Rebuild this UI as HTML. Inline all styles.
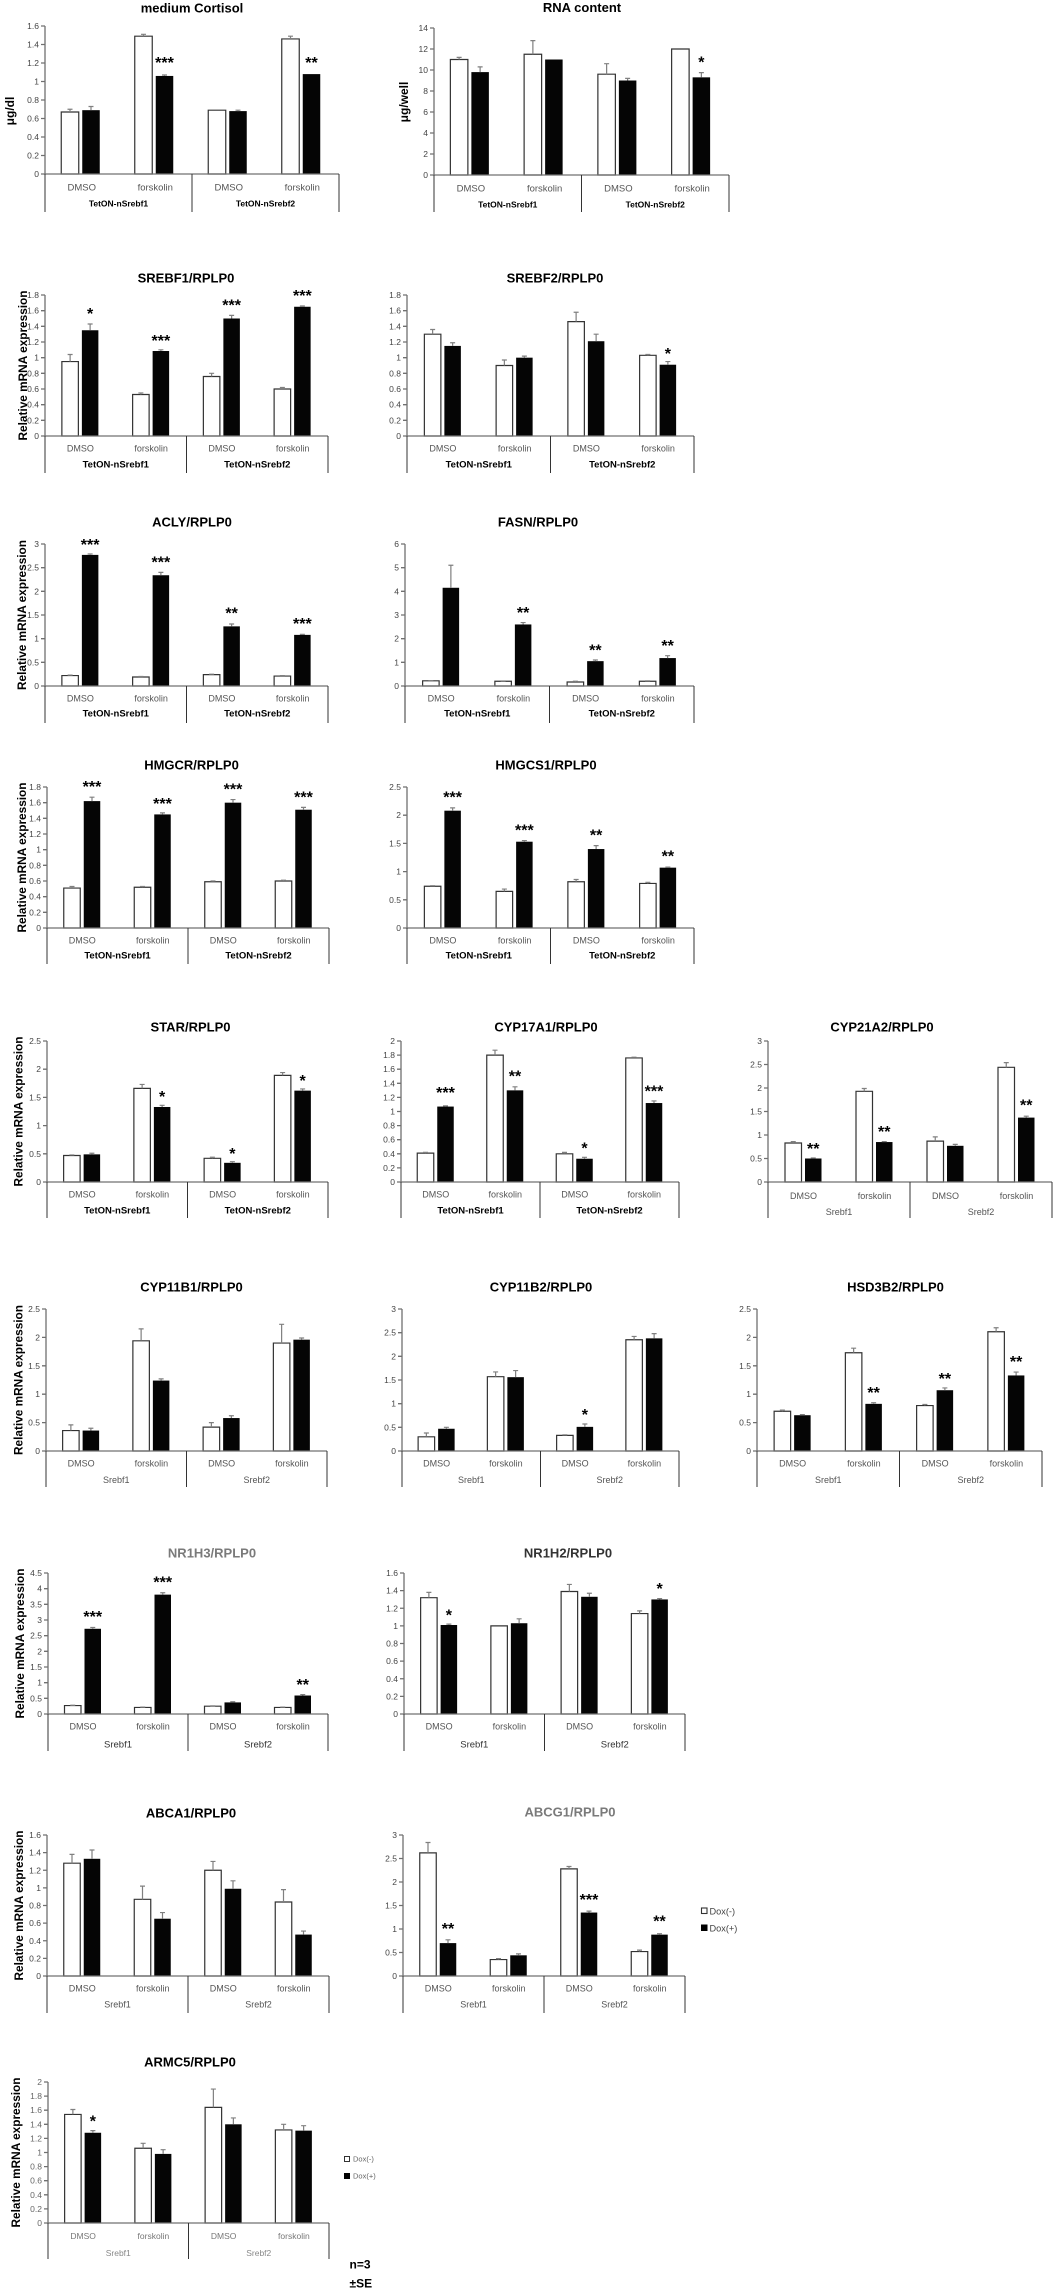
<!DOCTYPE html>
<html><head><meta charset="utf-8"><style>
html,body{margin:0;padding:0;background:#fff}
svg{display:block}
svg text{font-family:"Liberation Sans",Arial,sans-serif}
.t{font-size:13px;font-weight:bold;text-anchor:middle;fill:#000}
.tk{font-size:8.5px;fill:#444;text-anchor:end}
.c{font-size:9px;fill:#555;text-anchor:middle}
.g{font-size:9.5px;font-weight:bold;fill:#000;text-anchor:middle}
.gs{font-size:9px;fill:#555;text-anchor:middle}
.s{font-size:16px;font-weight:bold;text-anchor:middle;fill:#000}
.yl{font-size:12px;font-weight:bold;text-anchor:middle;fill:#000}
.ax{stroke:#707070;stroke-width:1.3;fill:none}
.tb{stroke:#333;stroke-width:1;fill:none}
.w{fill:#fff;stroke:#333;stroke-width:1.2;vector-effect:non-scaling-stroke}
.b{fill:#050505}
.e{stroke:#808080;stroke-width:1.2;fill:none;vector-effect:non-scaling-stroke}
.lg{font-size:9.2px;fill:#444}
</style></head><body>
<svg width="1054" height="2292" viewBox="0 0 1054 2292" xmlns="http://www.w3.org/2000/svg">
<rect width="1054" height="2292" fill="#fff"/>

<!-- ROW 1 -->
<text class="t" x="192" y="12.7">medium Cortisol</text>
<text class="yl" transform="translate(14,111) rotate(-90)">μg/dl</text>
<g transform="translate(45,174)">
<g transform="scale(1,-92.5)">
<g transform="translate(36.75,0)"><rect class="w" x="-20.5" width="17.5" height=".67"/><rect class="b" x=".5" width="17.5" height=".69"/><path class="e" d="M-11.75 .67V.70M-14.25 .70H-9.25M9.25 .69V.73M6.75 .73H11.75"/></g>
<g transform="translate(110.25,0)"><rect class="w" x="-20.5" width="17.5" height="1.49"/><rect class="b" x=".5" width="17.5" height="1.06"/><path class="e" d="M-11.75 1.49V1.51M-14.25 1.51H-9.25M9.25 1.06V1.07M6.75 1.07H11.75"/></g>
<g transform="translate(183.75,0)"><rect class="w" x="-20.5" width="17.5" height=".69"/><rect class="b" x=".5" width="17.5" height=".68"/><path class="e" d="M9.25 .68V.69M6.75 .69H11.75"/></g>
<g transform="translate(257.25,0)"><rect class="w" x="-20.5" width="17.5" height="1.46"/><rect class="b" x=".5" width="17.5" height="1.08"/><path class="e" d="M-11.75 1.46V1.49M-14.25 1.49H-9.25"/></g>
</g>
<path class="ax" d="M0 0V-148M-4 0H294M-4 -18.5H0M-4 -37H0M-4 -55.5H0M-4 -74H0M-4 -92.5H0M-4 -111H0M-4 -129.5H0M-4 -148H0"/>
<path class="tb" d="M0 0V38M147 0V38M294 0V38"/>
<text class="tk" x="-6" y="3">0</text><text class="tk" x="-6" y="-15.5">0.2</text><text class="tk" x="-6" y="-34">0.4</text><text class="tk" x="-6" y="-52.5">0.6</text><text class="tk" x="-6" y="-71">0.8</text><text class="tk" x="-6" y="-89.5">1</text><text class="tk" x="-6" y="-108">1.2</text><text class="tk" x="-6" y="-126.5">1.4</text><text class="tk" x="-6" y="-145">1.6</text>
<text class="c" x="36.75" y="16.5" style="font-size:9.5px">DMSO</text><text class="c" x="110.25" y="16.5" style="font-size:9.5px">forskolin</text><text class="c" x="183.75" y="16.5" style="font-size:9.5px">DMSO</text><text class="c" x="257.25" y="16.5" style="font-size:9.5px">forskolin</text>
<text class="g" x="73.5" y="32.5" style="font-size:8.5px">TetON-nSrebf1</text><text class="g" x="220.5" y="32.5" style="font-size:8.5px">TetON-nSrebf2</text>
<text class="s" x="119.5" y="-106">***</text><text class="s" x="266.5" y="-106">**</text>
</g>

<text class="t" x="582" y="12.2">RNA content</text>
<text class="yl" transform="translate(408,102) rotate(-90)">μg/well</text>
<g transform="translate(434,175)">
<g transform="scale(1,-10.5)">
<g transform="translate(36.875,0)"><rect class="w" x="-20.5" width="17.5" height="11"/><rect class="b" x=".5" width="17.5" height="9.8"/><path class="e" d="M-11.75 11V11.2M-14.25 11.2H-9.25M9.25 9.8V10.3M6.75 10.3H11.75"/></g>
<g transform="translate(110.625,0)"><rect class="w" x="-20.5" width="17.5" height="11.5"/><rect class="b" x=".5" width="17.5" height="11"/><path class="e" d="M-11.75 11.5V12.8M-14.25 12.8H-9.25"/></g>
<g transform="translate(184.375,0)"><rect class="w" x="-20.5" width="17.5" height="9.6"/><rect class="b" x=".5" width="17.5" height="9"/><path class="e" d="M-11.75 9.6V10.6M-14.25 10.6H-9.25M9.25 9V9.2M6.75 9.2H11.75"/></g>
<g transform="translate(258.125,0)"><rect class="w" x="-20.5" width="17.5" height="12"/><rect class="b" x=".5" width="17.5" height="9.3"/><path class="e" d="M9.25 9.3V9.75M6.75 9.75H11.75"/></g>
</g>
<path class="ax" d="M0 0V-147M-4 0H295M-4 -21H0M-4 -42H0M-4 -63H0M-4 -84H0M-4 -105H0M-4 -126H0M-4 -147H0"/>
<path class="tb" d="M0 0V37M147.5 0V37M295 0V37"/>
<text class="tk" x="-6" y="3">0</text><text class="tk" x="-6" y="-18">2</text><text class="tk" x="-6" y="-39">4</text><text class="tk" x="-6" y="-60">6</text><text class="tk" x="-6" y="-81">8</text><text class="tk" x="-6" y="-102">10</text><text class="tk" x="-6" y="-123">12</text><text class="tk" x="-6" y="-144">14</text>
<text class="c" x="36.875" y="16.5" style="font-size:9.5px">DMSO</text><text class="c" x="110.625" y="16.5" style="font-size:9.5px">forskolin</text><text class="c" x="184.375" y="16.5" style="font-size:9.5px">DMSO</text><text class="c" x="258.125" y="16.5" style="font-size:9.5px">forskolin</text>
<text class="g" x="73.75" y="32.5" style="font-size:8.5px">TetON-nSrebf1</text><text class="g" x="221.25" y="32.5" style="font-size:8.5px">TetON-nSrebf2</text>
<text class="s" x="267.4" y="-107.7">*</text>
</g>

<!-- ROW 2 -->
<text class="t" x="186" y="282.7">SREBF1/RPLP0</text>
<text class="yl" transform="translate(27,365.5) rotate(-90)" textLength="150" lengthAdjust="spacingAndGlyphs">Relative mRNA expression</text>
<g transform="translate(45,436)">
<g transform="scale(1,-78.33)">
<g transform="translate(35.375,0)"><rect class="w" x="-18.5" width="16.5" height=".95"/><rect class="b" x="1.5" width="16.5" height="1.35"/><path class="e" d="M-10.25 .95V1.04M-12.75 1.04H-7.75M9.75 1.35V1.43M7.25 1.43H12.25"/></g>
<g transform="translate(106.125,0)"><rect class="w" x="-18.5" width="16.5" height=".53"/><rect class="b" x="1.5" width="16.5" height="1.085"/><path class="e" d="M-10.25 .53V.55M-12.75 .55H-7.75M9.75 1.085V1.10M7.25 1.10H12.25"/></g>
<g transform="translate(176.875,0)"><rect class="w" x="-18.5" width="16.5" height=".76"/><rect class="b" x="1.5" width="16.5" height="1.50"/><path class="e" d="M-10.25 .76V.80M-12.75 .80H-7.75M9.75 1.50V1.54M7.25 1.54H12.25"/></g>
<g transform="translate(247.625,0)"><rect class="w" x="-18.5" width="16.5" height=".60"/><rect class="b" x="1.5" width="16.5" height="1.65"/><path class="e" d="M-10.25 .60V.62M-12.75 .62H-7.75M9.75 1.65V1.66M7.25 1.66H12.25"/></g>
</g>
<path class="ax" d="M0 0V-141M-4 0H283M-4 -15.67H0M-4 -31.33H0M-4 -47H0M-4 -62.67H0M-4 -78.33H0M-4 -94H0M-4 -109.67H0M-4 -125.33H0M-4 -141H0"/>
<path class="tb" d="M0 0V37M141.5 0V37M283 0V37"/>
<text class="tk" x="-6" y="3">0</text><text class="tk" x="-6" y="-12.67">0.2</text><text class="tk" x="-6" y="-28.33">0.4</text><text class="tk" x="-6" y="-44">0.6</text><text class="tk" x="-6" y="-59.67">0.8</text><text class="tk" x="-6" y="-75.33">1</text><text class="tk" x="-6" y="-91">1.2</text><text class="tk" x="-6" y="-106.67">1.4</text><text class="tk" x="-6" y="-122.33">1.6</text><text class="tk" x="-6" y="-138">1.8</text>
<text class="c" x="35.375" y="15.3">DMSO</text><text class="c" x="106.125" y="15.3">forskolin</text><text class="c" x="176.875" y="15.3">DMSO</text><text class="c" x="247.625" y="15.3">forskolin</text>
<text class="g" x="70.75" y="31.5">TetON-nSrebf1</text><text class="g" x="212.25" y="31.5">TetON-nSrebf2</text>
<text class="s" x="45.1" y="-117">*</text><text class="s" x="115.9" y="-90">***</text><text class="s" x="186.6" y="-125.6">***</text><text class="s" x="257.4" y="-135">***</text>
</g>

<text class="t" x="555" y="282.7">SREBF2/RPLP0</text>
<g transform="translate(407,436)">
<g transform="scale(1,-78.33)">
<g transform="translate(35.875,0)"><rect class="w" x="-18.5" width="16.5" height="1.30"/><rect class="b" x="1.5" width="16.5" height="1.15"/><path class="e" d="M-10.25 1.30V1.36M-12.75 1.36H-7.75M9.75 1.15V1.19M7.25 1.19H12.25"/></g>
<g transform="translate(107.625,0)"><rect class="w" x="-18.5" width="16.5" height=".90"/><rect class="b" x="1.5" width="16.5" height="1.0"/><path class="e" d="M-10.25 .90V.97M-12.75 .97H-7.75M9.75 1.0V1.02M7.25 1.02H12.25"/></g>
<g transform="translate(179.375,0)"><rect class="w" x="-18.5" width="16.5" height="1.46"/><rect class="b" x="1.5" width="16.5" height="1.21"/><path class="e" d="M-10.25 1.46V1.58M-12.75 1.58H-7.75M9.75 1.21V1.30M7.25 1.30H12.25"/></g>
<g transform="translate(251.125,0)"><rect class="w" x="-18.5" width="16.5" height="1.03"/><rect class="b" x="1.5" width="16.5" height=".91"/><path class="e" d="M-10.25 1.03V1.04M-12.75 1.04H-7.75M9.75 .91V.95M7.25 .95H12.25"/></g>
</g>
<path class="ax" d="M0 0V-141M-4 0H287M-4 -15.67H0M-4 -31.33H0M-4 -47H0M-4 -62.67H0M-4 -78.33H0M-4 -94H0M-4 -109.67H0M-4 -125.33H0M-4 -141H0"/>
<path class="tb" d="M0 0V37M143.5 0V37M287 0V37"/>
<text class="tk" x="-6" y="3">0</text><text class="tk" x="-6" y="-12.67">0.2</text><text class="tk" x="-6" y="-28.33">0.4</text><text class="tk" x="-6" y="-44">0.6</text><text class="tk" x="-6" y="-59.67">0.8</text><text class="tk" x="-6" y="-75.33">1</text><text class="tk" x="-6" y="-91">1.2</text><text class="tk" x="-6" y="-106.67">1.4</text><text class="tk" x="-6" y="-122.33">1.6</text><text class="tk" x="-6" y="-138">1.8</text>
<text class="c" x="35.875" y="15.3">DMSO</text><text class="c" x="107.625" y="15.3">forskolin</text><text class="c" x="179.375" y="15.3">DMSO</text><text class="c" x="251.125" y="15.3">forskolin</text>
<text class="g" x="71.75" y="31.5">TetON-nSrebf1</text><text class="g" x="215.25" y="31.5">TetON-nSrebf2</text>
<text class="s" x="260.9" y="-77">*</text>
</g>

<!-- ROW 3 -->
<text class="t" x="192" y="526.7">ACLY/RPLP0</text>
<text class="yl" transform="translate(26,615) rotate(-90)" textLength="150" lengthAdjust="spacingAndGlyphs">Relative mRNA expression</text>
<g transform="translate(45,686)">
<g transform="scale(1,-47.33)">
<g transform="translate(35.375,0)"><rect class="w" x="-18.5" width="16.5" height=".22"/><rect class="b" x="1.5" width="16.5" height="2.77"/><path class="e" d="M-10.25 .22V.23M-12.75 .23H-7.75M9.75 2.77V2.79M7.25 2.79H12.25"/></g>
<g transform="translate(106.125,0)"><rect class="w" x="-18.5" width="16.5" height=".19"/><rect class="b" x="1.5" width="16.5" height="2.34"/><path class="e" d="M-10.25 .19V.20M-12.75 .20H-7.75M9.75 2.34V2.40M7.25 2.40H12.25"/></g>
<g transform="translate(176.875,0)"><rect class="w" x="-18.5" width="16.5" height=".24"/><rect class="b" x="1.5" width="16.5" height="1.26"/><path class="e" d="M-10.25 .24V.25M-12.75 .25H-7.75M9.75 1.26V1.31M7.25 1.31H12.25"/></g>
<g transform="translate(247.625,0)"><rect class="w" x="-18.5" width="16.5" height=".21"/><rect class="b" x="1.5" width="16.5" height="1.08"/><path class="e" d="M-10.25 .21V.22M-12.75 .22H-7.75M9.75 1.08V1.09M7.25 1.09H12.25"/></g>
</g>
<path class="ax" d="M0 0V-142M-4 0H283M-4 -23.67H0M-4 -47.33H0M-4 -71H0M-4 -94.67H0M-4 -118.33H0M-4 -142H0"/>
<path class="tb" d="M0 0V37M141.5 0V37M283 0V37"/>
<text class="tk" x="-6" y="3">0</text><text class="tk" x="-6" y="-20.67">0.5</text><text class="tk" x="-6" y="-44.33">1</text><text class="tk" x="-6" y="-68">1.5</text><text class="tk" x="-6" y="-91.67">2</text><text class="tk" x="-6" y="-115.33">2.5</text><text class="tk" x="-6" y="-139">3</text>
<text class="c" x="35.375" y="15.3">DMSO</text><text class="c" x="106.125" y="15.3">forskolin</text><text class="c" x="176.875" y="15.3">DMSO</text><text class="c" x="247.625" y="15.3">forskolin</text>
<text class="g" x="70.75" y="30.5">TetON-nSrebf1</text><text class="g" x="212.25" y="30.5">TetON-nSrebf2</text>
<text class="s" x="45.1" y="-136">***</text><text class="s" x="115.9" y="-118.6">***</text><text class="s" x="186.6" y="-67.5">**</text><text class="s" x="257.4" y="-57">***</text>
</g>

<text class="t" x="538" y="526.7">FASN/RPLP0</text>
<g transform="translate(405,686)">
<g transform="scale(1,-23.67)">
<g transform="translate(36.125,0)"><rect class="w" x="-18.5" width="16.5" height=".22"/><rect class="b" x="1.5" width="16.5" height="4.15"/><path class="e" d="M-10.25 .22V.23M-12.75 .23H-7.75M9.75 4.15V5.1M7.25 5.1H12.25"/></g>
<g transform="translate(108.375,0)"><rect class="w" x="-18.5" width="16.5" height=".20"/><rect class="b" x="1.5" width="16.5" height="2.6"/><path class="e" d="M-10.25 .20V.21M-12.75 .21H-7.75M9.75 2.6V2.68M7.25 2.68H12.25"/></g>
<g transform="translate(180.625,0)"><rect class="w" x="-18.5" width="16.5" height=".17"/><rect class="b" x="1.5" width="16.5" height="1.05"/><path class="e" d="M-10.25 .17V.20M-12.75 .20H-7.75M9.75 1.05V1.10M7.25 1.10H12.25"/></g>
<g transform="translate(252.875,0)"><rect class="w" x="-18.5" width="16.5" height=".20"/><rect class="b" x="1.5" width="16.5" height="1.18"/><path class="e" d="M-10.25 .20V.22M-12.75 .22H-7.75M9.75 1.18V1.28M7.25 1.28H12.25"/></g>
</g>
<path class="ax" d="M0 0V-142M-4 0H289M-4 -23.67H0M-4 -47.33H0M-4 -71H0M-4 -94.67H0M-4 -118.33H0M-4 -142H0"/>
<path class="tb" d="M0 0V37M144.5 0V37M289 0V37"/>
<text class="tk" x="-6" y="3">0</text><text class="tk" x="-6" y="-20.67">1</text><text class="tk" x="-6" y="-44.33">2</text><text class="tk" x="-6" y="-68">3</text><text class="tk" x="-6" y="-91.67">4</text><text class="tk" x="-6" y="-115.33">5</text><text class="tk" x="-6" y="-139">6</text>
<text class="c" x="36.125" y="15.3">DMSO</text><text class="c" x="108.375" y="15.3">forskolin</text><text class="c" x="180.625" y="15.3">DMSO</text><text class="c" x="252.875" y="15.3">forskolin</text>
<text class="g" x="72.25" y="30.5">TetON-nSrebf1</text><text class="g" x="216.75" y="30.5">TetON-nSrebf2</text>
<text class="s" x="118.1" y="-68">**</text><text class="s" x="190.4" y="-30.5">**</text><text class="s" x="262.6" y="-35">**</text>
</g>

<!-- ROW 4 -->
<text class="t" x="191.5" y="769.7">HMGCR/RPLP0</text>
<text class="yl" transform="translate(26,857.5) rotate(-90)" textLength="150" lengthAdjust="spacingAndGlyphs">Relative mRNA expression</text>
<g transform="translate(47,928)">
<g transform="scale(1,-78.33)">
<g transform="translate(35.25,0)"><rect class="w" x="-18.5" width="16.5" height=".51"/><rect class="b" x="1.5" width="16.5" height="1.62"/><path class="e" d="M-10.25 .51V.53M-12.75 .53H-7.75M9.75 1.62V1.67M7.25 1.67H12.25"/></g>
<g transform="translate(105.75,0)"><rect class="w" x="-18.5" width="16.5" height=".52"/><rect class="b" x="1.5" width="16.5" height="1.45"/><path class="e" d="M-10.25 .52V.53M-12.75 .53H-7.75M9.75 1.45V1.47M7.25 1.47H12.25"/></g>
<g transform="translate(176.25,0)"><rect class="w" x="-18.5" width="16.5" height=".59"/><rect class="b" x="1.5" width="16.5" height="1.60"/><path class="e" d="M-10.25 .59V.60M-12.75 .60H-7.75M9.75 1.60V1.64M7.25 1.64H12.25"/></g>
<g transform="translate(246.75,0)"><rect class="w" x="-18.5" width="16.5" height=".60"/><rect class="b" x="1.5" width="16.5" height="1.51"/><path class="e" d="M-10.25 .60V.61M-12.75 .61H-7.75M9.75 1.51V1.54M7.25 1.54H12.25"/></g>
</g>
<path class="ax" d="M0 0V-141M-4 0H282M-4 -15.67H0M-4 -31.33H0M-4 -47H0M-4 -62.67H0M-4 -78.33H0M-4 -94H0M-4 -109.67H0M-4 -125.33H0M-4 -141H0"/>
<path class="tb" d="M0 0V36M141 0V36M282 0V36"/>
<text class="tk" x="-6" y="3">0</text><text class="tk" x="-6" y="-12.67">0.2</text><text class="tk" x="-6" y="-28.33">0.4</text><text class="tk" x="-6" y="-44">0.6</text><text class="tk" x="-6" y="-59.67">0.8</text><text class="tk" x="-6" y="-75.33">1</text><text class="tk" x="-6" y="-91">1.2</text><text class="tk" x="-6" y="-106.67">1.4</text><text class="tk" x="-6" y="-122.33">1.6</text><text class="tk" x="-6" y="-138">1.8</text>
<text class="c" x="35.25" y="15.3">DMSO</text><text class="c" x="105.75" y="15.3">forskolin</text><text class="c" x="176.25" y="15.3">DMSO</text><text class="c" x="246.75" y="15.3">forskolin</text>
<text class="g" x="70.5" y="30.5">TetON-nSrebf1</text><text class="g" x="211.5" y="30.5">TetON-nSrebf2</text>
<text class="s" x="45" y="-136">***</text><text class="s" x="115.5" y="-119">***</text><text class="s" x="186" y="-133.5">***</text><text class="s" x="256.5" y="-125.6">***</text>
</g>

<text class="t" x="546" y="769.7">HMGCS1/RPLP0</text>
<g transform="translate(407,928)">
<g transform="scale(1,-56.4)">
<g transform="translate(35.875,0)"><rect class="w" x="-18.5" width="16.5" height=".74"/><rect class="b" x="1.5" width="16.5" height="2.08"/><path class="e" d="M-10.25 .74V.75M-12.75 .75H-7.75M9.75 2.08V2.13M7.25 2.13H12.25"/></g>
<g transform="translate(107.625,0)"><rect class="w" x="-18.5" width="16.5" height=".65"/><rect class="b" x="1.5" width="16.5" height="1.53"/><path class="e" d="M-10.25 .65V.69M-12.75 .69H-7.75M9.75 1.53V1.55M7.25 1.55H12.25"/></g>
<g transform="translate(179.375,0)"><rect class="w" x="-18.5" width="16.5" height=".82"/><rect class="b" x="1.5" width="16.5" height="1.40"/><path class="e" d="M-10.25 .82V.86M-12.75 .86H-7.75M9.75 1.40V1.46M7.25 1.46H12.25"/></g>
<g transform="translate(251.125,0)"><rect class="w" x="-18.5" width="16.5" height=".79"/><rect class="b" x="1.5" width="16.5" height="1.07"/><path class="e" d="M-10.25 .79V.81M-12.75 .81H-7.75M9.75 1.07V1.08M7.25 1.08H12.25"/></g>
</g>
<path class="ax" d="M0 0V-141M-4 0H287M-4 -28.2H0M-4 -56.4H0M-4 -84.6H0M-4 -112.8H0M-4 -141H0"/>
<path class="tb" d="M0 0V36M143.5 0V36M287 0V36"/>
<text class="tk" x="-6" y="3">0</text><text class="tk" x="-6" y="-25.2">0.5</text><text class="tk" x="-6" y="-53.4">1</text><text class="tk" x="-6" y="-81.6">1.5</text><text class="tk" x="-6" y="-109.8">2</text><text class="tk" x="-6" y="-138">2.5</text>
<text class="c" x="35.875" y="15.3">DMSO</text><text class="c" x="107.625" y="15.3">forskolin</text><text class="c" x="179.375" y="15.3">DMSO</text><text class="c" x="251.125" y="15.3">forskolin</text>
<text class="g" x="71.75" y="30.5">TetON-nSrebf1</text><text class="g" x="215.25" y="30.5">TetON-nSrebf2</text>
<text class="s" x="45.6" y="-125.4">***</text><text class="s" x="117.4" y="-92.4">***</text><text class="s" x="189.1" y="-87.3">**</text><text class="s" x="260.9" y="-66.5">**</text>
</g>

<!-- ROW 5 -->
<text class="t" x="190.5" y="1031.7">STAR/RPLP0</text>
<text class="yl" transform="translate(22.5,1111.5) rotate(-90)" textLength="150" lengthAdjust="spacingAndGlyphs">Relative mRNA expression</text>
<g transform="translate(47,1182)">
<g transform="scale(1,-56.4)">
<g transform="translate(35.125,0)"><rect class="w" x="-18.5" width="16.5" height=".47"/><rect class="b" x="1.5" width="16.5" height=".49"/><path class="e" d="M-10.25 .47V.48M-12.75 .48H-7.75M9.75 .49V.51M7.25 .51H12.25"/></g>
<g transform="translate(105.375,0)"><rect class="w" x="-18.5" width="16.5" height="1.66"/><rect class="b" x="1.5" width="16.5" height="1.33"/><path class="e" d="M-10.25 1.66V1.73M-12.75 1.73H-7.75M9.75 1.33V1.36M7.25 1.36H12.25"/></g>
<g transform="translate(175.625,0)"><rect class="w" x="-18.5" width="16.5" height=".42"/><rect class="b" x="1.5" width="16.5" height=".34"/><path class="e" d="M-10.25 .42V.44M-12.75 .44H-7.75M9.75 .34V.36M7.25 .36H12.25"/></g>
<g transform="translate(245.875,0)"><rect class="w" x="-18.5" width="16.5" height="1.89"/><rect class="b" x="1.5" width="16.5" height="1.62"/><path class="e" d="M-10.25 1.89V1.94M-12.75 1.94H-7.75M9.75 1.62V1.65M7.25 1.65H12.25"/></g>
</g>
<path class="ax" d="M0 0V-141M-4 0H281M-4 -28.2H0M-4 -56.4H0M-4 -84.6H0M-4 -112.8H0M-4 -141H0"/>
<path class="tb" d="M0 0V36M140.5 0V36M281 0V36"/>
<text class="tk" x="-6" y="3">0</text><text class="tk" x="-6" y="-25.2">0.5</text><text class="tk" x="-6" y="-53.4">1</text><text class="tk" x="-6" y="-81.6">1.5</text><text class="tk" x="-6" y="-109.8">2</text><text class="tk" x="-6" y="-138">2.5</text>
<text class="c" x="35.125" y="15.3">DMSO</text><text class="c" x="105.375" y="15.3">forskolin</text><text class="c" x="175.625" y="15.3">DMSO</text><text class="c" x="245.875" y="15.3">forskolin</text>
<text class="g" x="70.25" y="31.5">TetON-nSrebf1</text><text class="g" x="210.75" y="31.5">TetON-nSrebf2</text>
<text class="s" x="115.1" y="-80">*</text><text class="s" x="185.4" y="-23">*</text><text class="s" x="255.6" y="-96">*</text>
</g>

<text class="t" x="546" y="1031.7">CYP17A1/RPLP0</text>
<g transform="translate(401,1182)">
<g transform="scale(1,-70.5)">
<g transform="translate(34.75,0)"><rect class="w" x="-18.5" width="16.5" height=".41"/><rect class="b" x="1.5" width="16.5" height="1.07"/><path class="e" d="M-10.25 .41V.42M-12.75 .42H-7.75M9.75 1.07V1.08M7.25 1.08H12.25"/></g>
<g transform="translate(104.25,0)"><rect class="w" x="-18.5" width="16.5" height="1.80"/><rect class="b" x="1.5" width="16.5" height="1.30"/><path class="e" d="M-10.25 1.80V1.87M-12.75 1.87H-7.75M9.75 1.30V1.35M7.25 1.35H12.25"/></g>
<g transform="translate(173.75,0)"><rect class="w" x="-18.5" width="16.5" height=".40"/><rect class="b" x="1.5" width="16.5" height=".33"/><path class="e" d="M-10.25 .40V.42M-12.75 .42H-7.75M9.75 .33V.35M7.25 .35H12.25"/></g>
<g transform="translate(243.25,0)"><rect class="w" x="-18.5" width="16.5" height="1.76"/><rect class="b" x="1.5" width="16.5" height="1.12"/><path class="e" d="M-10.25 1.76V1.77M-12.75 1.77H-7.75M9.75 1.12V1.15M7.25 1.15H12.25"/></g>
</g>
<path class="ax" d="M0 0V-141M-4 0H278M-4 -14.1H0M-4 -28.2H0M-4 -42.3H0M-4 -56.4H0M-4 -70.5H0M-4 -84.6H0M-4 -98.7H0M-4 -112.8H0M-4 -126.9H0M-4 -141H0"/>
<path class="tb" d="M0 0V36M139 0V36M278 0V36"/>
<text class="tk" x="-6" y="3">0</text><text class="tk" x="-6" y="-11.1">0.2</text><text class="tk" x="-6" y="-25.2">0.4</text><text class="tk" x="-6" y="-39.3">0.6</text><text class="tk" x="-6" y="-53.4">0.8</text><text class="tk" x="-6" y="-67.5">1</text><text class="tk" x="-6" y="-81.6">1.2</text><text class="tk" x="-6" y="-95.7">1.4</text><text class="tk" x="-6" y="-109.8">1.6</text><text class="tk" x="-6" y="-123.9">1.8</text><text class="tk" x="-6" y="-138">2</text>
<text class="c" x="34.75" y="15.3">DMSO</text><text class="c" x="104.25" y="15.3">forskolin</text><text class="c" x="173.75" y="15.3">DMSO</text><text class="c" x="243.25" y="15.3">forskolin</text>
<text class="g" x="69.5" y="31.5">TetON-nSrebf1</text><text class="g" x="208.5" y="31.5">TetON-nSrebf2</text>
<text class="s" x="44.5" y="-84">***</text><text class="s" x="114" y="-100.3">**</text><text class="s" x="183.5" y="-28.5">*</text><text class="s" x="253" y="-85.5">***</text>
</g>

<text class="t" x="882" y="1031.7">CYP21A2/RPLP0</text>
<g transform="translate(768,1182)">
<g transform="scale(1,-47)">
<g transform="translate(35.5,0)"><rect class="w" x="-18.5" width="16.5" height=".83"/><rect class="b" x="1.5" width="16.5" height=".50"/><path class="e" d="M-10.25 .83V.86M-12.75 .86H-7.75M9.75 .50V.51M7.25 .51H12.25"/></g>
<g transform="translate(106.5,0)"><rect class="w" x="-18.5" width="16.5" height="1.93"/><rect class="b" x="1.5" width="16.5" height=".85"/><path class="e" d="M-10.25 1.93V1.99M-12.75 1.99H-7.75M9.75 .85V.86M7.25 .86H12.25"/></g>
<g transform="translate(177.5,0)"><rect class="w" x="-18.5" width="16.5" height=".87"/><rect class="b" x="1.5" width="16.5" height=".77"/><path class="e" d="M-10.25 .87V.96M-12.75 .96H-7.75M9.75 .77V.80M7.25 .80H12.25"/></g>
<g transform="translate(248.5,0)"><rect class="w" x="-18.5" width="16.5" height="2.44"/><rect class="b" x="1.5" width="16.5" height="1.37"/><path class="e" d="M-10.25 2.44V2.54M-12.75 2.54H-7.75M9.75 1.37V1.40M7.25 1.40H12.25"/></g>
</g>
<path class="ax" d="M0 0V-141M-4 0H284M-4 -23.5H0M-4 -47H0M-4 -70.5H0M-4 -94H0M-4 -117.5H0M-4 -141H0"/>
<path class="tb" d="M0 0V36M142 0V36M284 0V36"/>
<text class="tk" x="-6" y="3">0</text><text class="tk" x="-6" y="-20.5">0.5</text><text class="tk" x="-6" y="-44">1</text><text class="tk" x="-6" y="-67.5">1.5</text><text class="tk" x="-6" y="-91">2</text><text class="tk" x="-6" y="-114.5">2.5</text><text class="tk" x="-6" y="-138">3</text>
<text class="c" x="35.5" y="17.2">DMSO</text><text class="c" x="106.5" y="17.2">forskolin</text><text class="c" x="177.5" y="17.2">DMSO</text><text class="c" x="248.5" y="17.2">forskolin</text>
<text class="gs" x="71" y="33.2">Srebf1</text><text class="gs" x="213" y="33.2">Srebf2</text>
<text class="s" x="45.25" y="-28">**</text><text class="s" x="116.25" y="-45">**</text><text class="s" x="258.25" y="-71.5">**</text>
</g>

<!-- ROW 6 -->
<text class="t" x="191.5" y="1291.7">CYP11B1/RPLP0</text>
<text class="yl" transform="translate(22.5,1380) rotate(-90)" textLength="150" lengthAdjust="spacingAndGlyphs">Relative mRNA expression</text>
<g transform="translate(46,1451)">
<g transform="scale(1,-56.8)">
<g transform="translate(35.125,0)"><rect class="w" x="-18.5" width="16.5" height=".36"/><rect class="b" x="1.5" width="16.5" height=".36"/><path class="e" d="M-10.25 .36V.46M-12.75 .46H-7.75M9.75 .36V.40M7.25 .40H12.25"/></g>
<g transform="translate(105.375,0)"><rect class="w" x="-18.5" width="16.5" height="1.94"/><rect class="b" x="1.5" width="16.5" height="1.24"/><path class="e" d="M-10.25 1.94V2.15M-12.75 2.15H-7.75M9.75 1.24V1.27M7.25 1.27H12.25"/></g>
<g transform="translate(175.625,0)"><rect class="w" x="-18.5" width="16.5" height=".42"/><rect class="b" x="1.5" width="16.5" height=".58"/><path class="e" d="M-10.25 .42V.50M-12.75 .50H-7.75M9.75 .58V.62M7.25 .62H12.25"/></g>
<g transform="translate(245.875,0)"><rect class="w" x="-18.5" width="16.5" height="1.90"/><rect class="b" x="1.5" width="16.5" height="1.96"/><path class="e" d="M-10.25 1.90V2.23M-12.75 2.23H-7.75M9.75 1.96V1.99M7.25 1.99H12.25"/></g>
</g>
<path class="ax" d="M0 0V-142M-4 0H281M-4 -28.4H0M-4 -56.8H0M-4 -85.2H0M-4 -113.6H0M-4 -142H0"/>
<path class="tb" d="M0 0V36M140.5 0V36M281 0V36"/>
<text class="tk" x="-6" y="3">0</text><text class="tk" x="-6" y="-25.4">0.5</text><text class="tk" x="-6" y="-53.8">1</text><text class="tk" x="-6" y="-82.2">1.5</text><text class="tk" x="-6" y="-110.6">2</text><text class="tk" x="-6" y="-139">2.5</text>
<text class="c" x="35.125" y="15.3">DMSO</text><text class="c" x="105.375" y="15.3">forskolin</text><text class="c" x="175.625" y="15.3">DMSO</text><text class="c" x="245.875" y="15.3">forskolin</text>
<text class="gs" x="70.25" y="32.2">Srebf1</text><text class="gs" x="210.75" y="32.2">Srebf2</text>
</g>

<text class="t" x="541" y="1291.7">CYP11B2/RPLP0</text>
<g transform="translate(402,1451)">
<g transform="scale(1,-47.33)">
<g transform="translate(34.625,0)"><rect class="w" x="-18.5" width="16.5" height=".30"/><rect class="b" x="1.5" width="16.5" height=".47"/><path class="e" d="M-10.25 .30V.38M-12.75 .38H-7.75M9.75 .47V.50M7.25 .50H12.25"/></g>
<g transform="translate(103.875,0)"><rect class="w" x="-18.5" width="16.5" height="1.57"/><rect class="b" x="1.5" width="16.5" height="1.56"/><path class="e" d="M-10.25 1.57V1.67M-12.75 1.67H-7.75M9.75 1.56V1.70M7.25 1.70H12.25"/></g>
<g transform="translate(173.125,0)"><rect class="w" x="-18.5" width="16.5" height=".33"/><rect class="b" x="1.5" width="16.5" height=".51"/><path class="e" d="M-10.25 .33V.34M-12.75 .34H-7.75M9.75 .51V.57M7.25 .57H12.25"/></g>
<g transform="translate(242.375,0)"><rect class="w" x="-18.5" width="16.5" height="2.35"/><rect class="b" x="1.5" width="16.5" height="2.38"/><path class="e" d="M-10.25 2.35V2.42M-12.75 2.42H-7.75M9.75 2.38V2.48M7.25 2.48H12.25"/></g>
</g>
<path class="ax" d="M0 0V-142M-4 0H277M-4 -23.67H0M-4 -47.33H0M-4 -71H0M-4 -94.67H0M-4 -118.33H0M-4 -142H0"/>
<path class="tb" d="M0 0V36M138.5 0V36M277 0V36"/>
<text class="tk" x="-6" y="3">0</text><text class="tk" x="-6" y="-20.67">0.5</text><text class="tk" x="-6" y="-44.33">1</text><text class="tk" x="-6" y="-68">1.5</text><text class="tk" x="-6" y="-91.67">2</text><text class="tk" x="-6" y="-115.33">2.5</text><text class="tk" x="-6" y="-139">3</text>
<text class="c" x="34.625" y="15.3">DMSO</text><text class="c" x="103.875" y="15.3">forskolin</text><text class="c" x="173.125" y="15.3">DMSO</text><text class="c" x="242.375" y="15.3">forskolin</text>
<text class="gs" x="69.25" y="32.2">Srebf1</text><text class="gs" x="207.75" y="32.2">Srebf2</text>
<text class="s" x="182.9" y="-31">*</text>
</g>

<text class="t" x="895.5" y="1291.7">HSD3B2/RPLP0</text>
<g transform="translate(757,1451)">
<g transform="scale(1,-56.8)">
<g transform="translate(35.625,0)"><rect class="w" x="-18.5" width="16.5" height=".70"/><rect class="b" x="1.5" width="16.5" height=".63"/><path class="e" d="M-10.25 .70V.72M-12.75 .72H-7.75M9.75 .63V.64M7.25 .64H12.25"/></g>
<g transform="translate(106.875,0)"><rect class="w" x="-18.5" width="16.5" height="1.73"/><rect class="b" x="1.5" width="16.5" height=".83"/><path class="e" d="M-10.25 1.73V1.81M-12.75 1.81H-7.75M9.75 .83V.85M7.25 .85H12.25"/></g>
<g transform="translate(178.125,0)"><rect class="w" x="-18.5" width="16.5" height=".80"/><rect class="b" x="1.5" width="16.5" height="1.07"/><path class="e" d="M-10.25 .80V.82M-12.75 .82H-7.75M9.75 1.07V1.11M7.25 1.11H12.25"/></g>
<g transform="translate(249.375,0)"><rect class="w" x="-18.5" width="16.5" height="2.10"/><rect class="b" x="1.5" width="16.5" height="1.33"/><path class="e" d="M-10.25 2.10V2.17M-12.75 2.17H-7.75M9.75 1.33V1.39M7.25 1.39H12.25"/></g>
</g>
<path class="ax" d="M0 0V-142M-4 0H285M-4 -28.4H0M-4 -56.8H0M-4 -85.2H0M-4 -113.6H0M-4 -142H0"/>
<path class="tb" d="M0 0V36M142.5 0V36M285 0V36"/>
<text class="tk" x="-6" y="3">0</text><text class="tk" x="-6" y="-25.4">0.5</text><text class="tk" x="-6" y="-53.8">1</text><text class="tk" x="-6" y="-82.2">1.5</text><text class="tk" x="-6" y="-110.6">2</text><text class="tk" x="-6" y="-139">2.5</text>
<text class="c" x="35.625" y="15.3">DMSO</text><text class="c" x="106.875" y="15.3">forskolin</text><text class="c" x="178.125" y="15.3">DMSO</text><text class="c" x="249.375" y="15.3">forskolin</text>
<text class="gs" x="71.25" y="32.2">Srebf1</text><text class="gs" x="213.75" y="32.2">Srebf2</text>
<text class="s" x="116.6" y="-53">**</text><text class="s" x="187.9" y="-67">**</text><text class="s" x="259.1" y="-84">**</text>
</g>

<!-- ROW 7 -->
<text class="t" x="212" y="1557.7" style="fill:#7a7a7a">NR1H3/RPLP0</text>
<text class="yl" transform="translate(24,1643.5) rotate(-90)" textLength="150" lengthAdjust="spacingAndGlyphs">Relative mRNA expression</text>
<g transform="translate(48,1714)">
<g transform="scale(1,-31.33)">
<g transform="translate(35,0)"><rect class="w" x="-18.5" width="16.5" height=".27"/><rect class="b" x="1.5" width="16.5" height="2.72"/><path class="e" d="M-10.25 .27V.28M-12.75 .28H-7.75M9.75 2.72V2.76M7.25 2.76H12.25"/></g>
<g transform="translate(105,0)"><rect class="w" x="-18.5" width="16.5" height=".21"/><rect class="b" x="1.5" width="16.5" height="3.81"/><path class="e" d="M-10.25 .21V.22M-12.75 .22H-7.75M9.75 3.81V3.87M7.25 3.87H12.25"/></g>
<g transform="translate(175,0)"><rect class="w" x="-18.5" width="16.5" height=".25"/><rect class="b" x="1.5" width="16.5" height=".37"/><path class="e" d="M-10.25 .25V.26M-12.75 .26H-7.75M9.75 .37V.39M7.25 .39H12.25"/></g>
<g transform="translate(245,0)"><rect class="w" x="-18.5" width="16.5" height=".21"/><rect class="b" x="1.5" width="16.5" height=".59"/><path class="e" d="M-10.25 .21V.22M-12.75 .22H-7.75M9.75 .59V.62M7.25 .62H12.25"/></g>
</g>
<path class="ax" d="M0 0V-141M-4 0H280M-4 -15.67H0M-4 -31.33H0M-4 -47H0M-4 -62.67H0M-4 -78.33H0M-4 -94H0M-4 -109.67H0M-4 -125.33H0M-4 -141H0"/>
<path class="tb" d="M0 0V37M140 0V37M280 0V37"/>
<text class="tk" x="-6" y="3">0</text><text class="tk" x="-6" y="-12.67">0.5</text><text class="tk" x="-6" y="-28.33">1</text><text class="tk" x="-6" y="-44">1.5</text><text class="tk" x="-6" y="-59.67">2</text><text class="tk" x="-6" y="-75.33">2.5</text><text class="tk" x="-6" y="-91">3</text><text class="tk" x="-6" y="-106.67">3.5</text><text class="tk" x="-6" y="-122.33">4</text><text class="tk" x="-6" y="-138">4.5</text>
<text class="c" x="35" y="15.3">DMSO</text><text class="c" x="105" y="15.3">forskolin</text><text class="c" x="175" y="15.3">DMSO</text><text class="c" x="245" y="15.3">forskolin</text>
<text class="gs" x="70" y="33.5" style="font-size:9.5px;fill:#333">Srebf1</text><text class="gs" x="210" y="33.5" style="font-size:9.5px;fill:#333">Srebf2</text>
<text class="s" x="44.75" y="-92">***</text><text class="s" x="114.75" y="-126.5">***</text><text class="s" x="254.75" y="-24">**</text>
</g>

<text class="t" x="568" y="1557.7" style="fill:#333">NR1H2/RPLP0</text>
<g transform="translate(404,1714)">
<g transform="scale(1,-88.125)">
<g transform="translate(35.125,0)"><rect class="w" x="-18.5" width="16.5" height="1.32"/><rect class="b" x="1.5" width="16.5" height="1.01"/><path class="e" d="M-10.25 1.32V1.38M-12.75 1.38H-7.75M9.75 1.01V1.02M7.25 1.02H12.25"/></g>
<g transform="translate(105.375,0)"><rect class="w" x="-18.5" width="16.5" height="1.00"/><rect class="b" x="1.5" width="16.5" height="1.03"/><path class="e" d="M9.75 1.03V1.08M7.25 1.08H12.25"/></g>
<g transform="translate(175.625,0)"><rect class="w" x="-18.5" width="16.5" height="1.39"/><rect class="b" x="1.5" width="16.5" height="1.33"/><path class="e" d="M-10.25 1.39V1.47M-12.75 1.47H-7.75M9.75 1.33V1.37M7.25 1.37H12.25"/></g>
<g transform="translate(245.875,0)"><rect class="w" x="-18.5" width="16.5" height="1.14"/><rect class="b" x="1.5" width="16.5" height="1.30"/><path class="e" d="M-10.25 1.14V1.17M-12.75 1.17H-7.75M9.75 1.30V1.31M7.25 1.31H12.25"/></g>
</g>
<path class="ax" d="M0 0V-141M-4 0H281M-4 -17.63H0M-4 -35.25H0M-4 -52.88H0M-4 -70.5H0M-4 -88.13H0M-4 -105.75H0M-4 -123.38H0M-4 -141H0"/>
<path class="tb" d="M0 0V37M140.5 0V37M281 0V37"/>
<text class="tk" x="-6" y="3">0</text><text class="tk" x="-6" y="-14.63">0.2</text><text class="tk" x="-6" y="-32.25">0.4</text><text class="tk" x="-6" y="-49.88">0.6</text><text class="tk" x="-6" y="-67.5">0.8</text><text class="tk" x="-6" y="-85.13">1</text><text class="tk" x="-6" y="-102.75">1.2</text><text class="tk" x="-6" y="-120.38">1.4</text><text class="tk" x="-6" y="-138">1.6</text>
<text class="c" x="35.125" y="15.3">DMSO</text><text class="c" x="105.375" y="15.3">forskolin</text><text class="c" x="175.625" y="15.3">DMSO</text><text class="c" x="245.875" y="15.3">forskolin</text>
<text class="gs" x="70.25" y="33.5" style="font-size:9.5px;fill:#333">Srebf1</text><text class="gs" x="210.75" y="33.5" style="font-size:9.5px;fill:#333">Srebf2</text>
<text class="s" x="44.9" y="-93.5">*</text><text class="s" x="255.6" y="-120">*</text>
</g>

<!-- ROW 8 -->
<text class="t" x="191" y="1817.7">ABCA1/RPLP0</text>
<text class="yl" transform="translate(23,1905.5) rotate(-90)" textLength="150" lengthAdjust="spacingAndGlyphs">Relative mRNA expression</text>
<g transform="translate(47,1976)">
<g transform="scale(1,-88.125)">
<g transform="translate(35.25,0)"><rect class="w" x="-18.5" width="16.5" height="1.28"/><rect class="b" x="1.5" width="16.5" height="1.33"/><path class="e" d="M-10.25 1.28V1.38M-12.75 1.38H-7.75M9.75 1.33V1.43M7.25 1.43H12.25"/></g>
<g transform="translate(105.75,0)"><rect class="w" x="-18.5" width="16.5" height=".87"/><rect class="b" x="1.5" width="16.5" height=".65"/><path class="e" d="M-10.25 .87V1.02M-12.75 1.02H-7.75M9.75 .65V.72M7.25 .72H12.25"/></g>
<g transform="translate(176.25,0)"><rect class="w" x="-18.5" width="16.5" height="1.20"/><rect class="b" x="1.5" width="16.5" height=".99"/><path class="e" d="M-10.25 1.20V1.30M-12.75 1.30H-7.75M9.75 .99V1.08M7.25 1.08H12.25"/></g>
<g transform="translate(246.75,0)"><rect class="w" x="-18.5" width="16.5" height=".84"/><rect class="b" x="1.5" width="16.5" height=".47"/><path class="e" d="M-10.25 .84V.98M-12.75 .98H-7.75M9.75 .47V.51M7.25 .51H12.25"/></g>
</g>
<path class="ax" d="M0 0V-141M-4 0H282M-4 -17.63H0M-4 -35.25H0M-4 -52.88H0M-4 -70.5H0M-4 -88.13H0M-4 -105.75H0M-4 -123.38H0M-4 -141H0"/>
<path class="tb" d="M0 0V37M141 0V37M282 0V37"/>
<text class="tk" x="-6" y="3">0</text><text class="tk" x="-6" y="-14.63">0.2</text><text class="tk" x="-6" y="-32.25">0.4</text><text class="tk" x="-6" y="-49.88">0.6</text><text class="tk" x="-6" y="-67.5">0.8</text><text class="tk" x="-6" y="-85.13">1</text><text class="tk" x="-6" y="-102.75">1.2</text><text class="tk" x="-6" y="-120.38">1.4</text><text class="tk" x="-6" y="-138">1.6</text>
<text class="c" x="35.25" y="15.3">DMSO</text><text class="c" x="105.75" y="15.3">forskolin</text><text class="c" x="176.25" y="15.3">DMSO</text><text class="c" x="246.75" y="15.3">forskolin</text>
<text class="gs" x="70.5" y="31.5">Srebf1</text><text class="gs" x="211.5" y="31.5">Srebf2</text>
</g>

<text class="t" x="570" y="1816.7" style="fill:#7a7a7a">ABCG1/RPLP0</text>
<g transform="translate(403,1976)">
<g transform="scale(1,-47)">
<g transform="translate(35.25,0)"><rect class="w" x="-18.5" width="16.5" height="2.62"/><rect class="b" x="1.5" width="16.5" height=".70"/><path class="e" d="M-10.25 2.62V2.84M-12.75 2.84H-7.75M9.75 .70V.77M7.25 .77H12.25"/></g>
<g transform="translate(105.75,0)"><rect class="w" x="-18.5" width="16.5" height=".35"/><rect class="b" x="1.5" width="16.5" height=".44"/><path class="e" d="M-10.25 .35V.37M-12.75 .37H-7.75M9.75 .44V.47M7.25 .47H12.25"/></g>
<g transform="translate(176.25,0)"><rect class="w" x="-18.5" width="16.5" height="2.28"/><rect class="b" x="1.5" width="16.5" height="1.35"/><path class="e" d="M-10.25 2.28V2.33M-12.75 2.33H-7.75M9.75 1.35V1.38M7.25 1.38H12.25"/></g>
<g transform="translate(246.75,0)"><rect class="w" x="-18.5" width="16.5" height=".52"/><rect class="b" x="1.5" width="16.5" height=".88"/><path class="e" d="M-10.25 .52V.55M-12.75 .55H-7.75M9.75 .88V.90M7.25 .90H12.25"/></g>
</g>
<path class="ax" d="M0 0V-141M-4 0H282M-4 -23.5H0M-4 -47H0M-4 -70.5H0M-4 -94H0M-4 -117.5H0M-4 -141H0"/>
<path class="tb" d="M0 0V37M141 0V37M282 0V37"/>
<text class="tk" x="-6" y="3">0</text><text class="tk" x="-6" y="-20.5">0.5</text><text class="tk" x="-6" y="-44">1</text><text class="tk" x="-6" y="-67.5">1.5</text><text class="tk" x="-6" y="-91">2</text><text class="tk" x="-6" y="-114.5">2.5</text><text class="tk" x="-6" y="-138">3</text>
<text class="c" x="35.25" y="15.3">DMSO</text><text class="c" x="105.75" y="15.3">forskolin</text><text class="c" x="176.25" y="15.3">DMSO</text><text class="c" x="246.75" y="15.3">forskolin</text>
<text class="gs" x="70.5" y="31.5">Srebf1</text><text class="gs" x="211.5" y="31.5">Srebf2</text>
<text class="s" x="45" y="-42">**</text><text class="s" x="186" y="-71">***</text><text class="s" x="256.5" y="-49.5">**</text>
</g>

<rect x="701.5" y="1908" width="5.5" height="5.5" fill="#fff" stroke="#333" stroke-width="1.1"/>
<text class="lg" x="709.5" y="1914.3">Dox(-)</text>
<rect x="701" y="1924.5" width="6.5" height="6.5" fill="#000"/>
<text class="lg" x="709.5" y="1931.3">Dox(+)</text>

<!-- ROW 9 -->
<text class="t" x="190" y="2066.7">ARMC5/RPLP0</text>
<text class="yl" transform="translate(20,2152.5) rotate(-90)" textLength="150" lengthAdjust="spacingAndGlyphs">Relative mRNA expression</text>
<g transform="translate(48,2223)">
<g transform="scale(1,-70.5)">
<g transform="translate(35.125,0)"><rect class="w" x="-18.5" width="16.5" height="1.54"/><rect class="b" x="1.5" width="16.5" height="1.28"/><path class="e" d="M-10.25 1.54V1.61M-12.75 1.61H-7.75M9.75 1.28V1.31M7.25 1.31H12.25"/></g>
<g transform="translate(105.375,0)"><rect class="w" x="-18.5" width="16.5" height="1.06"/><rect class="b" x="1.5" width="16.5" height=".98"/><path class="e" d="M-10.25 1.06V1.13M-12.75 1.13H-7.75M9.75 .98V1.04M7.25 1.04H12.25"/></g>
<g transform="translate(175.625,0)"><rect class="w" x="-18.5" width="16.5" height="1.64"/><rect class="b" x="1.5" width="16.5" height="1.40"/><path class="e" d="M-10.25 1.64V1.90M-12.75 1.90H-7.75M9.75 1.40V1.49M7.25 1.49H12.25"/></g>
<g transform="translate(245.875,0)"><rect class="w" x="-18.5" width="16.5" height="1.32"/><rect class="b" x="1.5" width="16.5" height="1.31"/><path class="e" d="M-10.25 1.32V1.40M-12.75 1.40H-7.75M9.75 1.31V1.38M7.25 1.38H12.25"/></g>
</g>
<path class="ax" d="M0 0V-141M-4 0H281M-4 -14.1H0M-4 -28.2H0M-4 -42.3H0M-4 -56.4H0M-4 -70.5H0M-4 -84.6H0M-4 -98.7H0M-4 -112.8H0M-4 -126.9H0M-4 -141H0"/>
<path class="tb" d="M0 0V36M140.5 0V36M281 0V36"/>
<text class="tk" x="-6" y="3" style="fill:#666">0</text><text class="tk" x="-6" y="-11.1" style="fill:#666">0.2</text><text class="tk" x="-6" y="-25.2" style="fill:#666">0.4</text><text class="tk" x="-6" y="-39.3" style="fill:#666">0.6</text><text class="tk" x="-6" y="-53.4" style="fill:#666">0.8</text><text class="tk" x="-6" y="-67.5" style="fill:#666">1</text><text class="tk" x="-6" y="-81.6" style="fill:#666">1.2</text><text class="tk" x="-6" y="-95.7" style="fill:#666">1.4</text><text class="tk" x="-6" y="-109.8" style="fill:#666">1.6</text><text class="tk" x="-6" y="-123.9" style="fill:#666">1.8</text><text class="tk" x="-6" y="-138" style="fill:#666">2</text>
<text class="c" x="35.125" y="16" style="fill:#777;font-size:8.5px">DMSO</text><text class="c" x="105.375" y="16" style="fill:#777;font-size:8.5px">forskolin</text><text class="c" x="175.625" y="16" style="fill:#777;font-size:8.5px">DMSO</text><text class="c" x="245.875" y="16" style="fill:#777;font-size:8.5px">forskolin</text>
<text class="gs" x="70.25" y="33" style="fill:#888;font-size:8.5px">Srebf1</text><text class="gs" x="210.75" y="33" style="fill:#888;font-size:8.5px">Srebf2</text>
<text class="s" x="44.9" y="-96.5">*</text>
</g>

<rect x="344.5" y="2156.5" width="5" height="5" fill="#fff" stroke="#333" stroke-width="1"/>
<text x="353" y="2161.7" style="font-size:7.5px;fill:#666">Dox(-)</text>
<rect x="344" y="2173" width="6" height="6" fill="#000"/>
<text x="353" y="2178.7" style="font-size:7.5px;fill:#666">Dox(+)</text>

<text x="349.5" y="2268.5" style="font-size:12px;font-weight:bold;fill:#000">n=3</text>
<text x="349.5" y="2287.5" style="font-size:12px;font-weight:bold;fill:#000">±SE</text>
</svg>
</body></html>
